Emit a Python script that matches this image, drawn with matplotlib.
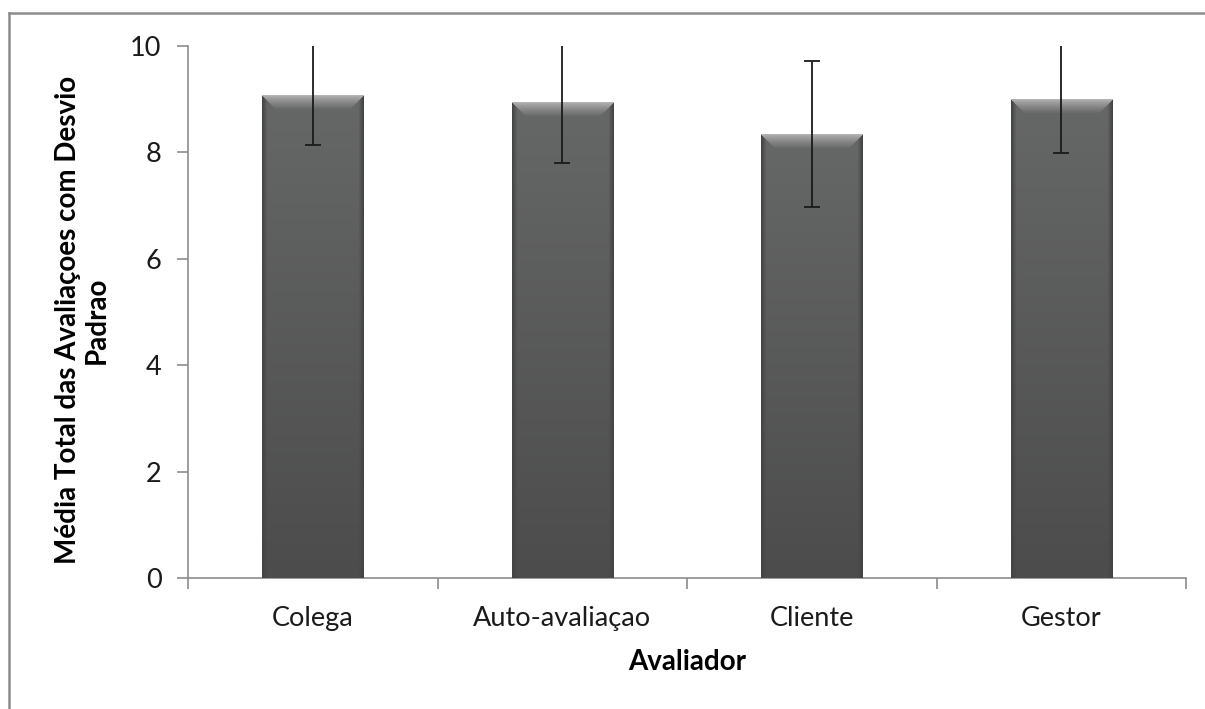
import numpy as np
import matplotlib
matplotlib.use("Agg")
from matplotlib import pyplot as plt
from matplotlib.lines import Line2D

categories = ["Colega", "Auto-avaliaçao", "Cliente", "Gestor"]
means = [9.07, 8.94, 8.34, 9.00]
stds = [0.94, 1.13, 1.37, 1.01]
y_ticks = [0, 2, 4, 6, 8, 10]

plt.rcParams["font.family"] = ["Lato", "DejaVu Sans"]

fig = plt.figure(figsize=(12.05, 7.09), dpi=100)
ax = fig.add_axes([188 / 1205, 1 - 578 / 709, (1186 - 188) / 1205, (578 - 46) / 709])

x = np.arange(len(categories))
bars = ax.bar(x, means, width=0.405, color="#5e5f5f", zorder=2)
ax.errorbar(x, means, yerr=stds, fmt="none", ecolor="#1a1a1a", elinewidth=1.3,
            capsize=5.5, capthick=1.3, zorder=4)

ax.set_xlim(-0.5, len(categories) - 0.5)
ax.set_ylim(0, 10)


def shade(a, b, t):
    return a + (b - a) * t


# bevel look on each bar, built in pixel size of the bar
base_top = np.array([0x66, 0x67, 0x67]) / 255
base_bot = np.array([0x4c, 0x4c, 0x4c]) / 255
light = np.array([0xb4, 0xb4, 0xb4]) / 255
side = np.array([0x44, 0x44, 0x44]) / 255
for bar in bars:
    x0, y0, w, h = bar.get_x(), bar.get_y(), bar.get_width(), bar.get_height()
    (px0, py0), (px1, py1) = ax.transData.transform([(x0, y0), (x0 + w, y0 + h)])
    cols = max(int(round(px1 - px0)), 2)
    rows = max(int(round(py1 - py0)), 2)
    ii, jj = np.mgrid[0:rows, 0:cols]
    img = shade(base_top, base_bot, (ii / (rows - 1))[..., None])
    bev = 14
    top = (ii < bev) & (ii <= jj) & (ii <= cols - 1 - jj)
    t = (ii / bev)[..., None] ** 0.8
    img = np.where(top[..., None], shade(light, base_top, t), img)
    edge = 5
    lside = (jj < edge) & (jj < ii)
    rside = (cols - 1 - jj < edge) & (cols - 1 - jj < ii)
    tl = (jj / edge)[..., None]
    tr = ((cols - 1 - jj) / edge)[..., None]
    img = np.where(lside[..., None], shade(side, img, tl), img)
    img = np.where(rside[..., None], shade(side, img, tr), img)
    im = ax.imshow(img, extent=(x0, x0 + w, y0, y0 + h), aspect="auto",
                   origin="upper", zorder=3, interpolation="bilinear")
    im.set_clip_path(bar)

for s in ["top", "right"]:
    ax.spines[s].set_visible(False)
for s in ["left", "bottom"]:
    ax.spines[s].set_color("#8c8c8c")
    ax.spines[s].set_linewidth(1.2)

ax.set_yticks(y_ticks)
ax.set_yticklabels([str(v) for v in y_ticks])
ax.set_xticks(x)
ax.set_xticklabels(categories)
ax.set_xticks(np.arange(-0.5, len(categories)), minor=True)
ax.tick_params(axis="x", which="major", length=0, pad=20.5, labelsize=19.5, colors="#1a1a1a")
ax.tick_params(axis="x", which="minor", length=8, width=1.2, color="#8c8c8c")
ax.tick_params(axis="y", length=8, width=1.2, color="#8c8c8c", pad=11,
               labelsize=19.5, labelcolor="#1a1a1a")

ax.set_xlabel("Avaliador", fontsize=20, fontweight="bold")
ax.xaxis.set_label_coords(0.5, (578 - 649) / 532)
ax.set_ylabel("Média Total das Avaliaçoes com Desvio\nPadrao", fontsize=20,
              fontweight="bold", linespacing=1.15)
ax.yaxis.set_label_coords((110 - 188) / 998, (578 - 320) / 532)

# outer chart frame (left and top edges visible)
fig.add_artist(Line2D([9 / 1205, 9 / 1205], [0, 1 - 13 / 709], transform=fig.transFigure,
                      color="#8c8c8c", lw=1.8))
fig.add_artist(Line2D([9 / 1205, 1], [1 - 13 / 709, 1 - 13 / 709], transform=fig.transFigure,
                      color="#8c8c8c", lw=1.8))

fig.savefig("out.png", dpi=100)
